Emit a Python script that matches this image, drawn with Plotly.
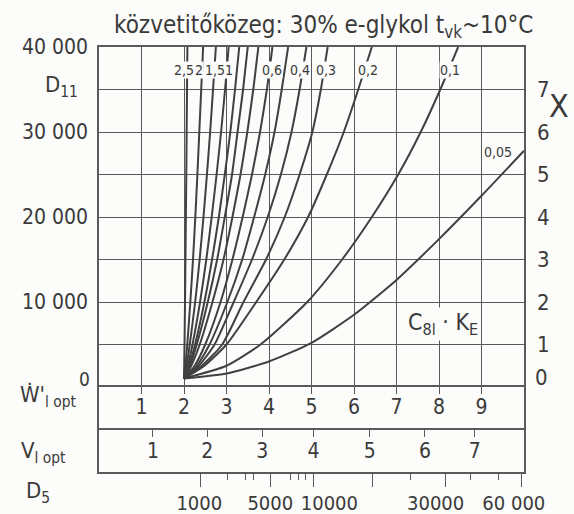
import plotly.graph_objects as go

# ---------------- data ----------------
# D11 levels at which the W'_l opt position of each curve was read
D_LEVELS = [1000, 2500, 5000, 10000, 15000, 20000, 25000, 30000, 35000, 40000]
c_2_5 = [2.0, 2.005, 2.012, 2.024, 2.034, 2.044, 2.054, 2.062, 2.071, 2.08]
c_2_0 = [2.0, 2.035, 2.077, 2.149, 2.212, 2.266, 2.315, 2.36, 2.405, 2.45]
c_1_5 = [2.0, 2.062, 2.135, 2.263, 2.368, 2.458, 2.54, 2.615, 2.683, 2.75]
c_1_0 = [2.0, 2.092, 2.2, 2.378, 2.525, 2.651, 2.767, 2.872, 2.966, 3.05]
c_0_9 = [2.0, 2.12, 2.26, 2.48, 2.66, 2.82, 2.96, 3.09, 3.2, 3.3]
c_0_8 = [2.0, 2.14, 2.3, 2.56, 2.78, 2.96, 3.13, 3.26, 3.39, 3.5]
c_0_7 = [2.0, 2.17, 2.37, 2.67, 2.93, 3.14, 3.33, 3.49, 3.63, 3.75]
c_0_6 = [2.0, 2.25, 2.5, 2.86, 3.14, 3.38, 3.6, 3.79, 3.95, 4.08]
c_0_5 = [2.0, 2.3, 2.6, 3.02, 3.37, 3.65, 3.91, 4.13, 4.3, 4.45]
c_0_4 = [2.0, 2.35, 2.72, 3.17, 3.6, 3.97, 4.28, 4.53, 4.72, 4.88]
c_0_3 = [2.0, 2.42, 2.9, 3.4, 3.93, 4.37, 4.72, 5.02, 5.22, 5.38]
c_0_2 = [2.0, 2.48, 3.0, 3.7, 4.36, 4.92, 5.36, 5.76, 6.1, 6.42]
c_0_1 = [2.0, 3.0, 3.8, 4.9, 5.72, 6.42, 7.04, 7.57, 8.03, 8.45]
STEEP_CURVES = [c_2_5, c_2_0, c_1_5, c_1_0, c_0_9, c_0_8, c_0_7,
                c_0_6, c_0_5, c_0_4, c_0_3, c_0_2, c_0_1]
# the flattest curve (0,05) read as D11 at integer W'_l opt
W_005 = [2, 3, 4, 5, 6, 7, 8, 9, 10]
D_005 = [1000, 1600, 3000, 5200, 8500, 12600, 17400, 22500, 27800]

# curve labels (C8l*KE) and where they sit (W'_l opt, D11)
CURVE_LABELS = ["2,5", "2", "1,5", "1", "0,6", "0,4", "0,3", "0,2", "0,1", "0,05"]
CURVE_LABEL_W = [2.0, 2.35, 2.73, 3.06, 4.08, 4.72, 5.35, 6.34, 8.25, 9.38]
CURVE_LABEL_D = [37300, 37300, 37300, 37300, 37300, 37300, 37300, 37300, 37300, 27600]

# axes
D11_TICKS = [0, 5000, 10000, 15000, 20000, 25000, 30000, 35000, 40000]
D11_TEXT = ["", "", "10 000", "", "20 000", "", "30 000", "", "40 000"]
X_TICKS = [1, 2, 3, 4, 5, 6, 7]
W_TICKS = [1, 2, 3, 4, 5, 6, 7, 8, 9]
V_TICK_LABELS = ["1", "2", "3", "4", "5", "6", "7"]
V_TICK_POS = [1.27, 2.55, 3.84, 5.05, 6.37, 7.67, 8.84]
D5_MAJOR_POS = [2.38, 4.03, 5.05, 6.44, 8.16, 9.93]
D5_MINOR_POS = [3.02, 3.44, 3.63, 4.50, 4.69, 4.86, 7.33, 8.75, 9.39]
D5_LABELS = ["1000", "5000", "10000", "30000", "60 000"]
D5_LABEL_POS = [2.36, 4.03, 5.42, 7.92, 9.76]

# ---------------- layout geometry ----------------
W, H = 574, 514
L, R, T, B = 99, 50, 47, 42
PW, PH = W - L - R, H - T - B
FONT = "DejaVu Sans Condensed, DejaVu Sans, sans-serif"
INK = "#3a3a3a"
GRID = "#5a5a5a"
BG = "#fcfcfb"


def px_x(x):
    return (x - L) / PW


def px_y(y):
    return (H - B - y) / PH


def ydom(top, bot):
    return [px_y(bot), px_y(top)]


fig = go.Figure()

curve_line = dict(color="#404040", width=2, shape="spline", smoothing=0.6)
for cw in STEEP_CURVES:
    fig.add_trace(go.Scatter(x=cw, y=D_LEVELS, mode="lines", line=curve_line,
                             hoverinfo="skip", showlegend=False))
fig.add_trace(go.Scatter(x=W_005, y=D_005, mode="lines", line=curve_line,
                         hoverinfo="skip", showlegend=False))

# axis carriers
fig.add_trace(go.Scatter(x=[None], y=[None], xaxis="x", yaxis="y5", showlegend=False))
fig.add_trace(go.Scatter(x=[None], y=[None], xaxis="x4", yaxis="y3", showlegend=False))
fig.add_trace(go.Scatter(x=[None], y=[None], xaxis="x5", yaxis="y3", showlegend=False))

# strip labels
fig.add_trace(go.Scatter(x=W_TICKS, y=[0.49] * len(W_TICKS), text=[str(v) for v in W_TICKS],
                         mode="text", xaxis="x2", yaxis="y2", showlegend=False, hoverinfo="skip",
                         textfont=dict(family=FONT, size=21, color=INK)))
fig.add_trace(go.Scatter(x=V_TICK_POS, y=[0.45] * len(V_TICK_POS), text=V_TICK_LABELS,
                         mode="text", xaxis="x3", yaxis="y3", showlegend=False, hoverinfo="skip",
                         textfont=dict(family=FONT, size=21, color=INK)))

vline_kw = dict(showline=True, linecolor=GRID, linewidth=1.5, mirror=True, zeroline=False,
                automargin=False)

fig.update_layout(
    width=W, height=H,
    margin=dict(l=L, r=R, t=T, b=B, pad=0, autoexpand=False),
    paper_bgcolor=BG, plot_bgcolor=BG,
    font=dict(family=FONT, color=INK),
    # main plot: frame top via x axis on top side, bottom line comes from strip axis
    xaxis=dict(domain=[0, 1], range=[0, 10], anchor="y", side="top", showgrid=True,
               gridcolor=GRID, gridwidth=1.2, tickmode="linear", tick0=0, dtick=1,
               showticklabels=False, ticks="", showline=True, linecolor=GRID,
               linewidth=1.5, mirror=False, zeroline=False, automargin=False),
    yaxis=dict(domain=ydom(47, 387), range=[0, 40000], anchor="x", showgrid=True,
               gridcolor=GRID, gridwidth=1.2, tickmode="array", tickvals=D11_TICKS,
               ticktext=D11_TEXT, ticks="", ticklabelstandoff=5,
               tickfont=dict(family=FONT, size=21, color=INK), **vline_kw),
    yaxis5=dict(overlaying="y", side="right", anchor="x", range=[0, 8], showgrid=False,
                zeroline=False, tickmode="array", tickvals=X_TICKS, automargin=False,
                ticktext=[str(v) for v in X_TICKS], ticks="", ticklabelstandoff=12,
                tickfont=dict(family=FONT, size=22, color=INK)),
    # W'_l opt strip: top line only
    xaxis2=dict(domain=[0, 1], range=[0, 10], anchor="y2", side="top", showgrid=False,
                tickmode="array", tickvals=W_TICKS, ticks="inside", ticklen=7,
                tickcolor=GRID, tickwidth=1.3, showticklabels=False, showline=True,
                linecolor=GRID, linewidth=1.5, mirror=False, zeroline=False,
                automargin=False),
    yaxis2=dict(domain=ydom(387, 430), range=[0, 1], anchor="x2", showgrid=False,
                showticklabels=False, ticks="", **vline_kw),
    # V_l opt strip: top and bottom lines
    xaxis3=dict(domain=[0, 1], range=[0, 10], anchor="y3", side="top", showgrid=False,
                tickmode="array", tickvals=V_TICK_POS, ticks="inside", ticklen=7,
                tickcolor=GRID, tickwidth=1.3, showticklabels=False, **vline_kw),
    yaxis3=dict(domain=ydom(430, 472), range=[0, 1], anchor="x3", showgrid=False,
                showticklabels=False, ticks="", **vline_kw),
    # D5 ticks below the V strip
    xaxis4=dict(overlaying="x3", anchor="y3", side="bottom", range=[0, 10], showgrid=False,
                zeroline=False, showline=False, tickmode="array", tickvals=D5_MAJOR_POS,
                ticks="outside", ticklen=14, tickcolor=GRID, tickwidth=1.3,
                showticklabels=False, automargin=False,
                minor=dict(tickmode="array", tickvals=D5_MINOR_POS, ticks="outside",
                           ticklen=7, tickcolor=GRID, tickwidth=1.3, showgrid=False)),
    # D5 labels
    xaxis5=dict(overlaying="x3", anchor="y3", side="bottom", range=[0, 10], showgrid=False,
                zeroline=False, showline=False, tickmode="array", tickvals=D5_LABEL_POS,
                ticktext=D5_LABELS, ticks="", ticklabelstandoff=17, automargin=False,
                tickfont=dict(family=FONT, size=20, color=INK)),
)

# curve labels (masking the curves like in the print)
for txt, xw, yd in zip(CURVE_LABELS, CURVE_LABEL_W, CURVE_LABEL_D):
    fig.add_annotation(x=xw, y=yd, xref="x", yref="y", text=txt, showarrow=False,
                       font=dict(family=FONT, size=14, color=INK), bgcolor=BG, borderpad=0)

texts = [
    ("közvetitőközeg: 30% e-glykol t<sub>vk</sub>~10°C", 323, 26, 24, None),
    ("D<sub>11</sub>", 61, 86, 22, None),
    ("0", 84, 379, 19, None),
    ("Ẇ'<sub>l opt</sub>", 48, 396, 22, None),
    ("V<sub>l opt</sub>", 44, 452, 22, None),
    ("D<sub>5</sub>", 38, 493, 22, None),
    ("X", 559, 106, 32, None),
    ("0", 541, 377, 22, None),
    ("C<sub>8l</sub> · K<sub>E</sub>", 443, 324, 23, BG),
]
for txt, xp, yp, fs, bg in texts:
    fig.add_annotation(x=px_x(xp), y=px_y(yp), xref="paper", yref="paper", text=txt,
                       showarrow=False, xanchor="center", yanchor="middle",
                       font=dict(family=FONT, size=fs, color=INK),
                       bgcolor=bg if bg else "rgba(0,0,0,0)", borderpad=1)

fig.write_html("out.html")
